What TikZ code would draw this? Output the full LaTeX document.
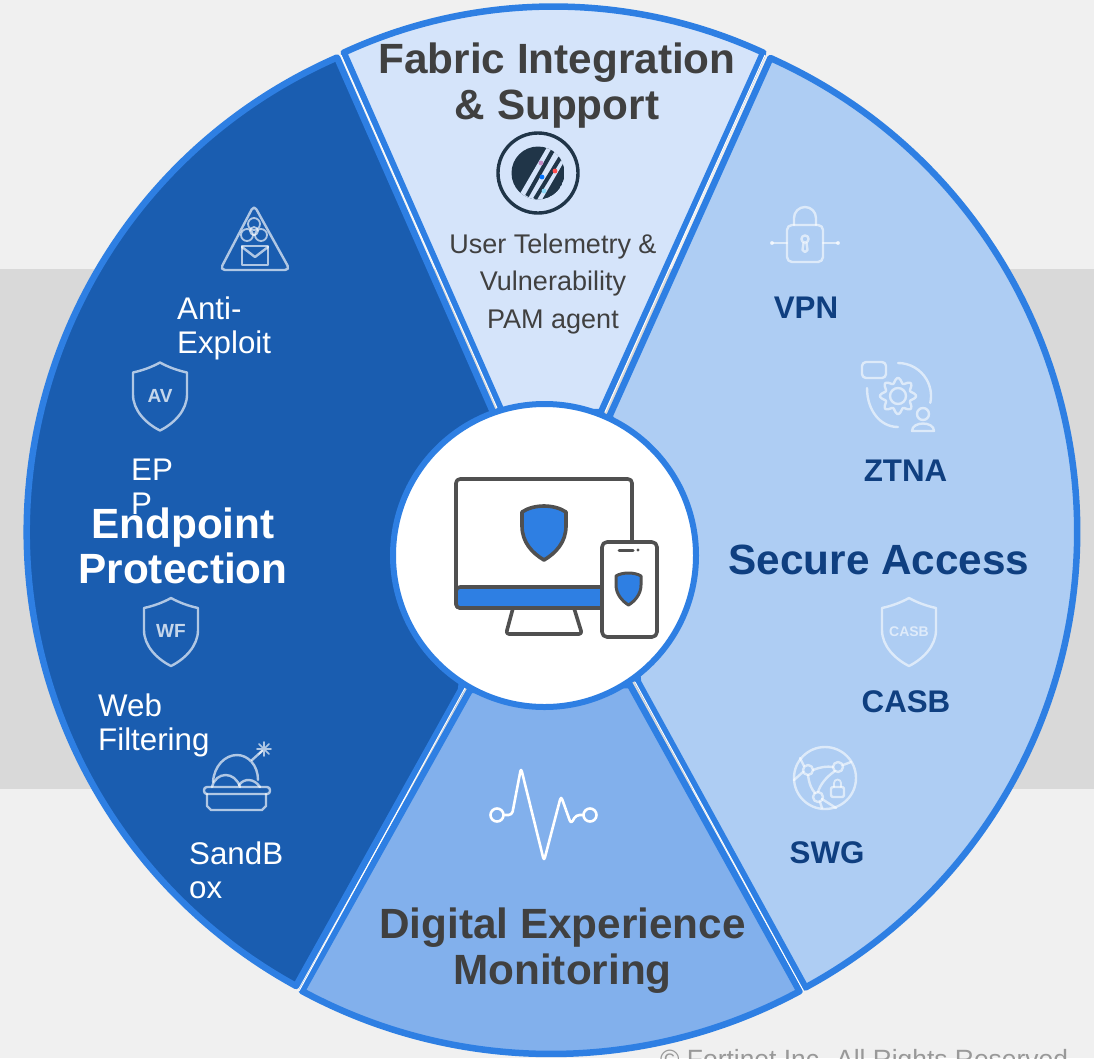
\documentclass[tikz,border=0pt]{standalone}
\usepackage{fontspec}
\setmainfont{Liberation Sans}
\definecolor{bgl}{HTML}{F0F0F0}
\definecolor{bgd}{HTML}{D9D9D9}
\definecolor{edge}{HTML}{2E7FE3}
\definecolor{secL}{HTML}{1A5DB0}
\definecolor{secR}{HTML}{AECDF3}
\definecolor{secB}{HTML}{82B0EC}
\definecolor{secT}{HTML}{D5E4FA}
\definecolor{txtd}{HTML}{404040}
\definecolor{txtb}{HTML}{0F3F80}
\definecolor{iconk}{HTML}{505050}
\definecolor{fabk}{HTML}{203548}
\tikzset{
  sector/.style={draw=edge,line width=6.5pt,line join=round},
  head/.style={inner sep=0pt,font=\fontsize{42.3}{46.5}\selectfont\bfseries,align=center},
  lab/.style={inner sep=0pt,font=\fontsize{31.3}{34}\selectfont,align=left,text=white},
  blab/.style={inner sep=0pt,font=\fontsize{31.3}{34}\selectfont\bfseries,text=txtb},
  dark/.style={draw=white,draw opacity=.66,line width=2.4pt,line join=round,line cap=round},
  pale/.style={draw=white,draw opacity=.58,line width=2.4pt,line join=round,line cap=round},
  hubline/.style={draw=iconk,line width=3.6pt,line join=round},
  gapline/.style={draw=white,line width=1pt},
  shieldicon/.pic={\path[pic actions] (0,0) .. controls (9,5) and (18,8) .. (27,10) -- (27,32) .. controls (27,48) and (14,61) .. (0,68) .. controls (-14,61) and (-27,48) .. (-27,32) -- (-27,10) .. controls (-18,8) and (-9,5) .. (0,0) -- cycle;}
}
\begin{document}
\begin{tikzpicture}[x=1pt,y=-1pt]
\useasboundingbox (0,0) rectangle (1094,1058);
\clip (0,0) rectangle (1094,1058);
\fill[bgl] (0,0) rectangle (1094,1058);
\fill[bgd] (0,269) rectangle (1094,789);
% sectors
\filldraw[sector,fill=secL] (544.5,531.8) ++(246.37:517.7) arc[start angle=246.37,end angle=118.68,radius=517.7] -- (461,690) -- (493,412) -- cycle;
\filldraw[sector,fill=secT] (553.5,506.5) ++(-114.8:500) arc[start angle=-114.8,end angle=-65.2,radius=500] -- (601,412) -- (502,412) -- cycle;
\filldraw[sector,fill=secR] (558.4,531.4) ++(-65.87:518.7) arc[start angle=-65.87,end angle=61.55,radius=518.7] -- (638,682) -- (610,415) -- cycle;
\filldraw[sector,fill=secB] (551,530.4) ++(118.4:523.6) arc[start angle=118.4,end angle=61.66,radius=523.6] -- (630,685) -- (470,690) -- cycle;
% hairlines between sectors
\coordinate (g1a) at (341,55); \coordinate (g1b) at (497,408);
\coordinate (g2a) at (765,55); \coordinate (g2b) at (605,412);
\coordinate (g3a) at (803,990); \coordinate (g3b) at (635,682);
\coordinate (g4a) at (299,991); \coordinate (g4b) at (465,688);
\draw[gapline] (g1a)--(g1b) (g2a)--(g2b) (g3a)--(g3b) (g4a)--(g4b);
% hub
\node[circle,draw=edge,fill=white,line width=6pt,minimum size=303pt,inner sep=0pt] (hub) at (544.5,555.5) {};
% monitor
\draw[hubline,fill=white,rounded corners=4pt] (456,479) rectangle (632,608);
\draw[hubline,fill=edge,rounded corners=4pt] (456,587) -- (632,587) -- (632,608) -- (456,608) -- cycle;
\draw[hubline,rounded corners=3pt] (513,608) -- (506,634) -- (582,634) -- (574,608);
\draw[hubline,fill=edge] (544,506) .. controls (552,506) and (560,508) .. (566,512) -- (566,526) .. controls (566,542) and (556,553) .. (544,560) .. controls (532,553) and (522,542) .. (522,526) -- (522,512) .. controls (528,508) and (536,506) .. (544,506) -- cycle;
\draw[hubline,fill=white,rounded corners=5pt] (602,542) rectangle (657,637);
\draw[iconk,line width=3pt,line cap=round] (619,550) -- (633,550);
\fill[iconk] (638,550) circle (1.7);
\draw[hubline,line width=3pt,fill=edge] (628.5,573) .. controls (633,573) and (638,574) .. (641,576) -- (641,585) .. controls (641,594) and (635,601) .. (628.5,605) .. controls (622,601) and (616,594) .. (616,585) -- (616,576) .. controls (619,574) and (624,573) .. (628.5,573) -- cycle;
% fabric icon
\draw[fabk,line width=3.4pt] (538,173) circle (40);
\begin{scope}
\clip (538,173) circle (26.5);
\fill[fabk] (538,173) circle (26.5);
\draw[secT,line width=22pt] (561,145) -- (525,207);
\draw[fabk,line width=4pt] (553,150) -- (527,196);
\draw[fabk,line width=4pt] (560,158) -- (535,199);
\end{scope}
\fill[violet!45] (541,163) circle (2.4);
\fill[red!70] (555,171) circle (2.4);
\fill[blue!55!cyan] (542,177) circle (2.4);
\fill[cyan!45] (544,191) circle (2.4);
% biohazard triangle
\draw[dark,rounded corners=5pt] (254,205) -- (290,270) -- (220,270) -- cycle;
\draw[dark] (242,246) rectangle (268,265);
\draw[dark] (242,247) -- (255,257) -- (268,247);
\draw[dark,line width=1.8pt] (254,231) circle (4);
\draw[dark,line width=1.8pt] (254,224) circle (6) (247,235) circle (6) (261,235) circle (6);
% shields
\pic[pale,dark] at (160,362.5) {shieldicon};
\pic[dark] at (171,598) {shieldicon};
\pic[pale] at (909,598) {shieldicon};
\node[inner sep=0pt,font=\fontsize{19}{19}\selectfont\bfseries,text=white,text opacity=.75] (avt) at (160,396) {AV};
\node[inner sep=0pt,font=\fontsize{19}{19}\selectfont\bfseries,text=white,text opacity=.75] (wft) at (171,631) {WF};
\node[inner sep=0pt,font=\fontsize{14}{14}\selectfont\bfseries,text=white,text opacity=.6] (cbt) at (909,632) {CASB};
% sandbox
\draw[dark] (207,794) -- (207,806) -- (211,810) -- (262,810) -- (266,806) -- (266,794);
\draw[dark,rounded corners=3pt] (204,787) rectangle (270,794);
\draw[dark] (213,782) .. controls (214,766) and (225,755) .. (237,755) .. controls (248,755) and (258,765) .. (258,780);
\draw[dark] (212,787) .. controls (216,771) and (235,771) .. (240,787);
\draw[dark] (239,785) .. controls (244,778) and (254,778) .. (260,787);
\draw[dark] (252,760) -- (262,751);
\draw[dark,line width=1.6pt] (264,742) -- (264,756) (257,749) -- (271,749) (259,744) -- (269,754) (259,754) -- (269,744);
% VPN lock
\draw[pale,rounded corners=5pt] (787,225) rectangle (823,262);
\draw[pale] (794,225) -- (794,218) arc[start angle=180,end angle=360,radius=11] -- (816,225);
\draw[pale] (772,243) -- (787,243) (823,243) -- (838,243);
\fill[white,opacity=.7] (772,243) circle (2) (838,243) circle (2);
\draw[pale] (805,239) circle (3.6);
\draw[pale] (803.5,243) -- (802.5,250) -- (805,252) -- (807.5,250) -- (806.5,243);
% ZTNA
\draw[pale,rounded corners=4pt] (862,362) rectangle (886,378);
\draw[pale] (898,363) arc[start angle=-90,end angle=12,radius=33];
\draw[pale] (867,388) .. controls (867,410) and (880,427) .. (898,427);
\draw[pale] (898,396) circle (8);
\draw[pale] plot[domain=0:360,samples=97,smooth] ({898+(15.5+2.5*cos(8*\x))*cos(\x)},{396+(15.5+2.5*cos(8*\x))*sin(\x)}) -- cycle;
\draw[pale] (923,414) circle (6);
\draw[pale] (912,431) .. controls (912,421) and (934,421) .. (934,431) -- cycle;
% SWG
\draw[pale] (825,778) circle (31);
\draw[pale] (808,770) circle (5) (838,767) circle (5) (818,797) circle (5);
\draw[pale] (813,770) .. controls (820,767) and (827,766) .. (833,767);
\draw[pale] (808,775) .. controls (809,784) and (812,790) .. (815,793);
\draw[pale] (835,771) .. controls (826,777) and (820,785) .. (818,792);
\draw[pale] (800,758) -- (804,766) (794,780) -- (803,772) (843,765) -- (851,762) (820,802) -- (822,808) (822,799) -- (836,808);
\draw[pale,rounded corners=2pt] (831,787) rectangle (844,797);
\draw[pale,line width=1.8pt] (834,787) -- (834,783) arc[start angle=180,end angle=360,radius=3.5] -- (841,787);
% heartbeat
\draw[white,line width=2.6pt] (497,815) circle (6.5);
\draw[white,line width=2.6pt] (590,815) circle (6.5);
\draw[white,line width=2.6pt,rounded corners=3.5pt,line join=round] (503.5,815) -- (512,815) -- (521,768) -- (544,861) -- (561,796) -- (571,824) -- (576,815) -- (583.5,815);
% texts
\node[head,text=txtd] (fab) at (557,85.5) {Fabric Integration\\\& Support};
\node[inner sep=0pt,font=\fontsize{27}{37.5}\selectfont,align=center,text=txtd] (usr) at (553,284) {User Telemetry \&\\Vulnerability\\PAM agent};
\node[lab,anchor=north west] (anti) at (177,297) {Anti-\\Exploit};
\node[lab,anchor=north west] (epp) at (131,459) {EP\\P};
\node[lab,anchor=north west] (web) at (98,694) {Web\\Filtering};
\node[lab,anchor=north west] (sand) at (189,842) {SandB\\ox};
\node[head,font=\fontsize{42.3}{45}\selectfont\bfseries,text=white] (endp) at (183,545.5) {Endpoint\\Protection};
\node[inner sep=0pt,font=\fontsize{42.3}{44}\selectfont\bfseries,text=txtb] (sec) at (879,560) {Secure Access};
\node[blab] (vpn) at (806,308) {VPN};
\node[blab] (zt) at (905.5,471) {ZTNA};
\node[blab] (cas) at (906,702) {CASB};
\node[blab] (swg) at (827,853) {SWG};
\node[head,text=txtd] (dig) at (562.5,950.5) {Digital Experience\\Monitoring};
\node[inner sep=0pt,anchor=base west,font=\fontsize{26.4}{30}\selectfont,text=gray!80] (copy) at (660,1068) {© Fortinet Inc. All Rights Reserved};
\end{tikzpicture}
\end{document}
